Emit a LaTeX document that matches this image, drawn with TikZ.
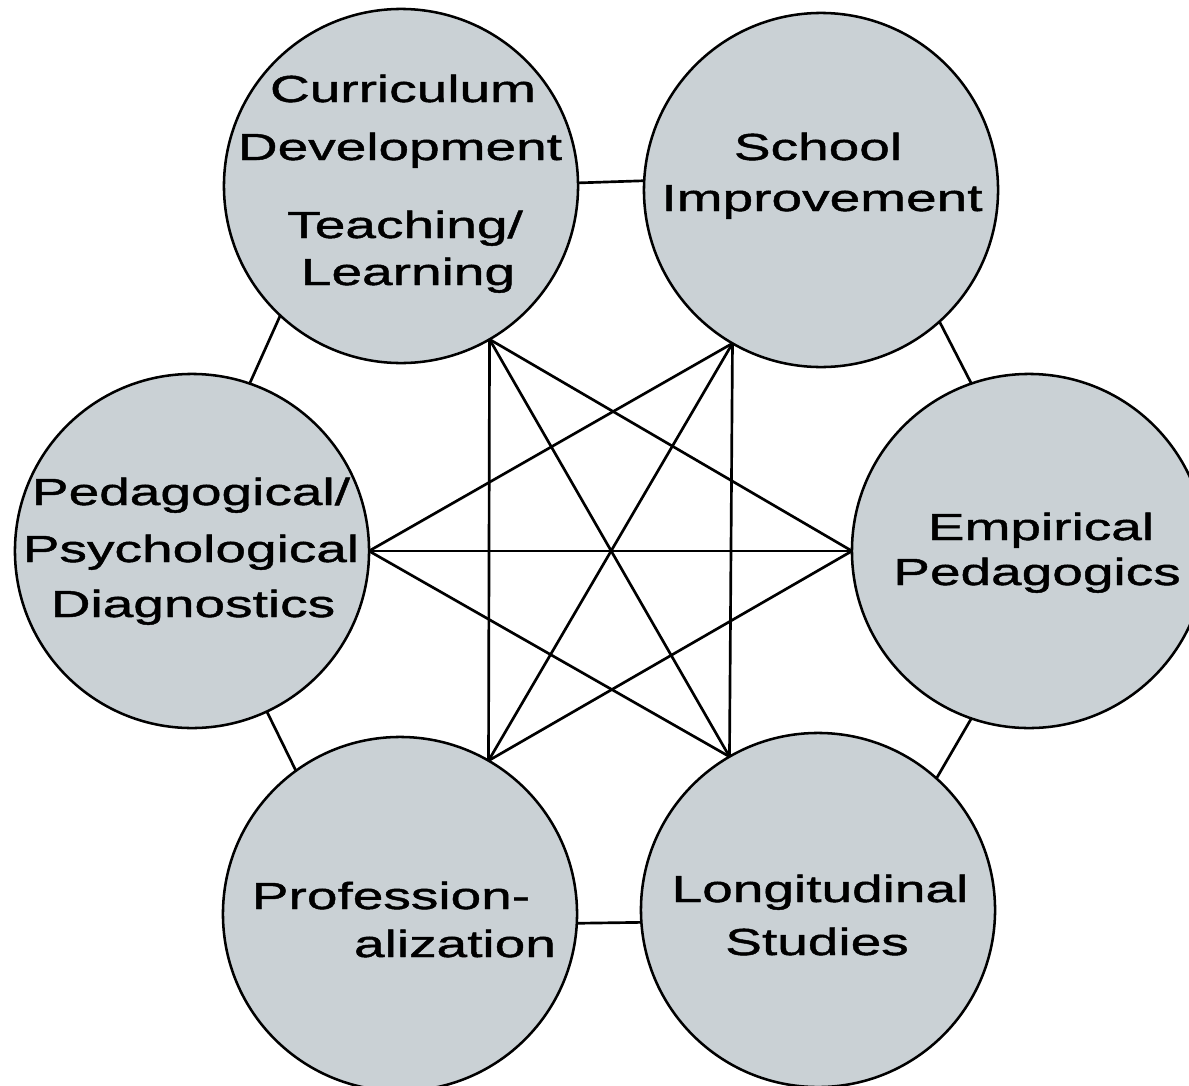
\documentclass[tikz,border=0pt]{standalone}
\usepackage{fontspec}
\newfontfamily\lbl{Liberation Sans}[FakeStretch=1.46,FakeBold=1.2]
\definecolor{bubfill}{RGB}{202,209,213}
\begin{document}
\begin{tikzpicture}[x=0.025cm,y=-0.025cm,
  bub/.style={circle,draw=black,fill=bubfill,line width=1.8pt,minimum size=8.85cm,inner sep=0pt,outer sep=0pt},
  txt/.style={anchor=base,inner sep=0pt,font=\lbl\fontsize{26.8}{32}\selectfont},
  link/.style={line width=1.9pt,black}]
\clip (0,0) rectangle (1189,1085);
\fill[white] (0,0) rectangle (1189,1085);
% circles
\node[bub] (c1) at (401,186) {};
\node[bub] (c2) at (821,190) {};
\node[bub] (c3) at (1029,551) {};
\node[bub] (c4) at (818,910) {};
\node[bub] (c5) at (400,914) {};
\node[bub] (c6) at (192,551) {};
% outer links
\draw[link] (c1.1.3) -- (c2.177.4);
\draw[link] (c2.-48) -- (c3.109.3);
\draw[link] (c3.-109.3) -- (c4.48.7);
\draw[link] (c4.184.5) -- (c5.-3.2);
\draw[link] (c5.126.4) -- (c6.-65.7);
\draw[link] (c6.71.7) -- (c1.227.7);
% inner star
\draw[link] (c1.-60) -- (c3.180);
\draw[link] (c1.-60) -- (c4.120);
\draw[link] (c1.-60) -- (c5.60);
\draw[link] (c2.-120) -- (c4.120);
\draw[link] (c2.-120) -- (c5.60);
\draw[link] (c2.-120) -- (c6.0);
\draw[link] (c3.180) -- (c5.60);
\draw[link] (c3.180) -- (c6.0);
\draw[link] (c4.120) -- (c6.0);
% labels
\node[txt] (t1a) at (403,102) {Curriculum};
\node[txt] (t1b) at (400,160) {Development};
\node[txt] (t1c) at (405,238) {Teaching/};
\node[txt] (t1d) at (408,285) {Learning};
\node[txt] (t2a) at (818,160) {School};
\node[txt] (t2b) at (822,211) {Improvement};
\node[txt] (t3a) at (1041,540) {Empirical};
\node[txt] (t3b) at (1037,585) {Pedagogics};
\node[txt] (t4a) at (820,902) {Longitudinal};
\node[txt] (t4b) at (817,955) {Studies};
\node[txt] (t5a) at (391,909) {Profession-};
\node[txt] (t5b) at (455,957) {alization};
\node[txt] (t6a) at (191,505) {Pedagogical/};
\node[txt] (t6b) at (191,562) {Psychological};
\node[txt] (t6c) at (193,617) {Diagnostics};
\end{tikzpicture}
\end{document}
